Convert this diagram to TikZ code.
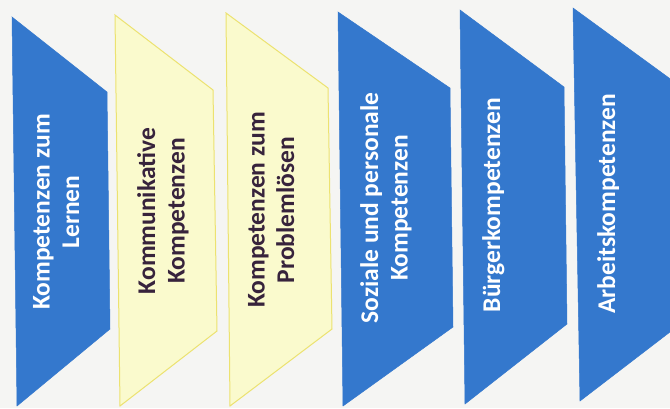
\documentclass[tikz,border=0pt]{standalone}
\usepackage{fontspec}
\setmainfont{Carlito}
\definecolor{bgc}{RGB}{245,245,243}
\definecolor{bluef}{RGB}{52,120,205}
\definecolor{yelf}{RGB}{250,250,205}
\definecolor{yeld}{RGB}{236,226,112}
\definecolor{darktxt}{RGB}{55,35,60}
\tikzset{
  bluebox/.style={fill=bluef, draw=bluef, line width=0.5pt, line join=miter},
  yelbox/.style={fill=yelf, draw=yeld, line width=1pt, line join=miter},
  lbl/.style={rotate=90, anchor=north, inner sep=0pt, align=center,
    font=\bfseries\fontsize{25.5}{29.5}\selectfont},
  whitelbl/.style={lbl, text=white},
  darklbl/.style={lbl, text=darktxt}
}
\begin{document}
\begin{tikzpicture}[x=1pt,y=-1pt]
\fill[bgc] (0,0) rectangle (670,408);
\useasboundingbox (0,0) rectangle (670,408);
% shapes
\draw[bluebox] (12,17) -- (107,92) -- (110,329) -- (17,406) -- cycle;
\draw[yelbox] (115,15) -- (213,90) -- (217,331) -- (120,406) -- cycle;
\draw[yelbox] (226,13) -- (328,88) -- (332,329) -- (230,406) -- cycle;
\draw[bluebox] (338,12) -- (450,88) -- (453,327) -- (343,406) -- cycle;
\draw[bluebox] (460,10) -- (564,87) -- (567,324) -- (465,404) -- cycle;
\draw[bluebox] (573,8) -- (680,86) -- (683,322) -- (580,401) -- cycle;
% labels
\node[whitelbl] (t1) at (33,212) {Kompetenzen zum\\Lernen};
\node[darklbl] (t2) at (137,211) {Kommunikative\\Kompetenzen};
\node[darklbl] (t3) at (248,210) {Kompetenzen zum\\Problemlösen};
\node[whitelbl] (t4) at (360,208) {Soziale und personale\\Kompetenzen};
\node[whitelbl] (t5) at (482,205) {Bürgerkompetenzen};
\node[whitelbl] (t6) at (597,204) {Arbeitskompetenzen};
\end{tikzpicture}
\end{document}
